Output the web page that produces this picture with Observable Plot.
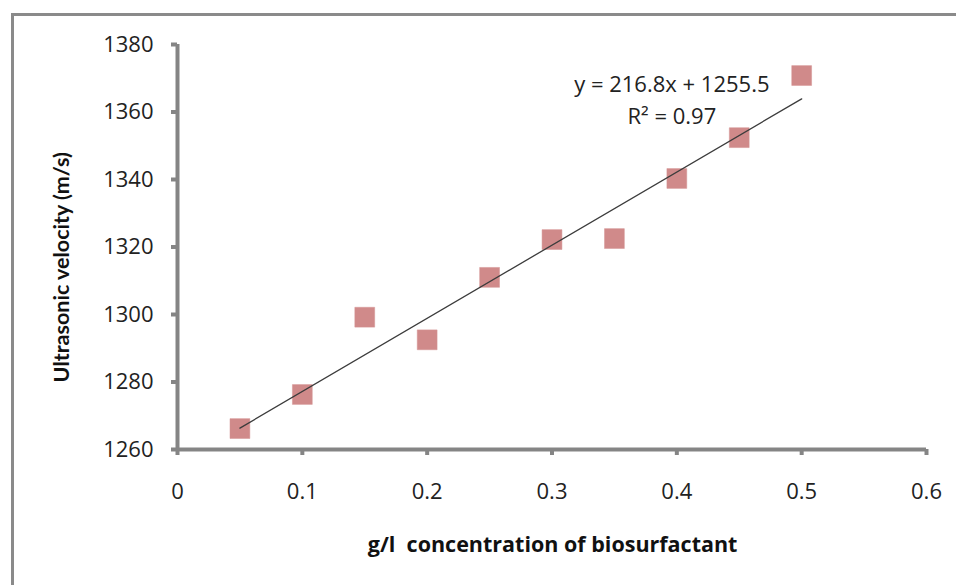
<!DOCTYPE html>
<html>
<head>
<meta charset="utf-8">
<script src="https://cdn.jsdelivr.net/npm/d3@7"></script>
<script src="https://cdn.jsdelivr.net/npm/@observablehq/plot@0.6"></script>
<style>
  html, body { margin: 0; padding: 0; background: #fff; }
  #wrap { position: relative; width: 956px; height: 585px; overflow: hidden; }
  #border { position: absolute; left: 11px; top: 13px; right: -10px; bottom: -10px;
            border-left: 3px solid #8a8a8a; border-top: 3px solid #8a8a8a; pointer-events: none; }
  svg { display: block; }
</style>
</head>
<body>
<div id="wrap"><div id="border"></div></div>
<script>
const concentration = [0.05, 0.10, 0.15, 0.20, 0.25, 0.30, 0.35, 0.40, 0.45, 0.50];
const velocity = [1266.2, 1276.3, 1299.2, 1292.5, 1311.0, 1322.2, 1322.5, 1340.3, 1352.4, 1370.8];
const xTicks = [0, 0.1, 0.2, 0.3, 0.4, 0.5, 0.6];
const yTicks = [1260, 1280, 1300, 1320, 1340, 1360, 1380];
const slope = 216.8;
const intercept = 1255.5;
const equationLabels = ["y = 216.8x + 1255.5", "R\u00b2 = 0.97"];
const xTitle = "g/l  concentration of biosurfactant";
const yTitle = "Ultrasonic velocity (m/s)";

const points = concentration.map((c, i) => ({x: c, y: velocity[i]}));
const xr = [concentration[0], concentration[concentration.length - 1]];
const trend = xr.map(x => ({x, y: slope * x + intercept}));

const axisColor = "#858585";
const font = "'Open Sans', Lato, sans-serif";
const xMin = xTicks[0], yMin = yTicks[0];

const chart = Plot.plot({
  width: 956,
  height: 585,
  marginLeft: 177,
  marginRight: 30,
  marginTop: 44,
  marginBottom: 136,
  style: {fontFamily: font, fontSize: "22px", color: "#222", background: "transparent"},
  x: {domain: [xTicks[0], xTicks[xTicks.length - 1]], label: null},
  y: {domain: [yTicks[0], yTicks[yTicks.length - 1]], label: null},
  marks: [
    Plot.axisX({ticks: xTicks, tickFormat: d => String(d), tickSize: 0, tickPadding: 34,
      fontSize: 22, fill: "#222", label: null}),
    Plot.axisY({ticks: yTicks, tickFormat: d => String(d), tickSize: 0, tickPadding: 24,
      fontSize: 22, fill: "#222", label: null}),
    // tick marks (outward, thick)
    Plot.ruleX(xTicks, {y1: yMin, y2: yMin, insetBottom: -6, stroke: axisColor, strokeWidth: 4}),
    Plot.ruleY(yTicks, {x1: xMin, x2: xMin, insetLeft: -6, stroke: axisColor, strokeWidth: 4}),
    // axis lines
    Plot.ruleY([yMin], {stroke: axisColor, strokeWidth: 4}),
    Plot.ruleX([xMin], {stroke: axisColor, strokeWidth: 4}),
    Plot.dot(points, {x: "x", y: "y", symbol: "square", r: 11.2, fill: "#d08a8a", stroke: "#d59595", strokeWidth: 0.5}),
    Plot.line(trend, {x: "x", y: "y", stroke: "#3c3c3c", strokeWidth: 1.3}),
    Plot.text([equationLabels[0]], {x: 0.396, y: 1368, text: d => d, fontSize: 22, fill: "#222"}),
    Plot.text([equationLabels[1]], {x: 0.396, y: 1358.5, text: d => d, fontSize: 22, fill: "#222"}),
    Plot.text([xTitle], {x: 0.3005, y: yMin, dy: 96, text: d => d,
      fontSize: 21.5, fontWeight: "bold", fill: "#111"}),
    Plot.text([yTitle], {x: xMin, y: 1314, dx: -115, rotate: -90, text: d => d,
      fontFamily: "Lato, sans-serif", fontSize: 21.5, fontWeight: "bold", fill: "#111"})
  ]
});
document.getElementById("wrap").appendChild(chart);
</script>
</body>
</html>
